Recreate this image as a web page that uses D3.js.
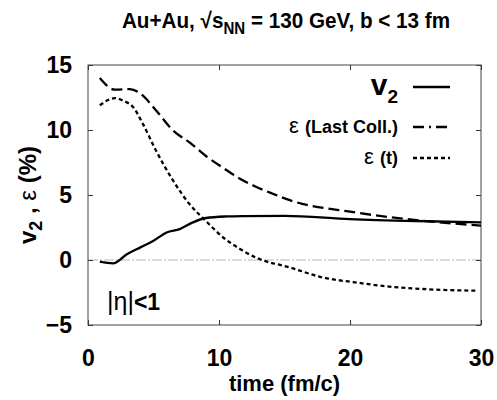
<!DOCTYPE html>
<html>
<head>
<meta charset="utf-8">
<script src="https://cdn.jsdelivr.net/npm/d3@7"></script>
<style>
  body { margin: 0; background: #fff; }
  text { font-family: "Liberation Sans", Arial, sans-serif; fill: #000; }
</style>
</head>
<body>
<svg width="497" height="400"></svg>
<script>
// data
const timeV2 = [0.9, 1.9, 3, 4, 5, 6, 7, 8, 9, 10.6, 12, 15, 20, 25, 30];
const v2 = [-0.13, -0.26, 0.46, 0.97, 1.48, 2.12, 2.38, 2.89, 3.23, 3.35, 3.38, 3.4, 3.15, 3.0, 2.9];

const timeLast = [0.9, 2.06, 3.2, 4, 5.2, 6.5, 7.75, 9, 10.3, 11.6, 12.9, 14.1, 15.4, 20.4, 25.5, 30];
const epsLast = [14.0, 13.1, 13.15, 12.8, 11.5, 9.95, 9.05, 8.0, 7.1, 6.25, 5.6, 5.1, 4.6, 3.66, 3.02, 2.65];

const timeEps = [0.9, 2.06, 2.7, 3.45, 4.2, 5.2, 6.5, 7.75, 9, 10.3, 11.6, 12.9, 15.4, 17.9, 20.4, 23, 25.5, 29.6];
const epsT = [11.9, 12.45, 12.25, 11.75, 10.45, 8.4, 6.1, 4.3, 3.0, 1.75, 0.85, 0.15, -0.57, -1.34, -1.72, -2.05, -2.23, -2.36];

const xTicks = [0, 10, 20, 30];
const yTicks = [-5, 0, 5, 10, 15];

const margin = { left: 88, right: 16, top: 65, bottom: 75 };
const svg = d3.select('svg');
const width = +svg.attr('width');
const height = +svg.attr('height');
const innerWidth = width - margin.left - margin.right;
const innerHeight = height - margin.top - margin.bottom;

const g = svg.append('g')
    .attr('transform', `translate(${margin.left},${margin.top})`);

const xScale = d3.scaleLinear().domain([0, 30]).range([0, innerWidth]);
const yScale = d3.scaleLinear().domain([-5, 15]).range([innerHeight, 0]);

// zero line
g.append('line')
    .attr('x1', 0).attr('x2', innerWidth)
    .attr('y1', yScale(0)).attr('y2', yScale(0))
    .attr('stroke', '#b8b8b8')
    .attr('stroke-width', 1.2)
    .attr('stroke-dasharray', '10,2,2,2');

// axes with inward ticks
const styleAxis = sel => {
  sel.attr('font-family', null).attr('font-size', null);
  sel.select('.domain').remove();
  sel.selectAll('.tick line').attr('stroke', '#333').attr('stroke-width', 1);
  sel.selectAll('.tick text')
    .attr('font-weight', 'bold')
    .attr('font-size', 23)
    .attr('fill', '#000');
};
// mirrored axes: ticks only
const ticksOnly = sel => {
  styleAxis(sel);
  sel.selectAll('.tick text').remove();
};

g.append('g')
    .attr('transform', `translate(0,${innerHeight})`)
    .call(d3.axisBottom(xScale).tickValues(xTicks).tickSize(-5).tickPadding(25))
    .call(styleAxis);
g.append('g')
    .call(d3.axisTop(xScale).tickValues(xTicks).tickSize(-5))
    .call(ticksOnly);
g.append('g')
    .call(d3.axisLeft(yScale).tickValues(yTicks).tickSize(-5).tickPadding(16))
    .call(styleAxis);
g.append('g')
    .attr('transform', `translate(${innerWidth},0)`)
    .call(d3.axisRight(yScale).tickValues(yTicks).tickSize(-5))
    .call(ticksOnly);

// frame
g.append('rect')
    .attr('width', innerWidth).attr('height', innerHeight)
    .attr('fill', 'none')
    .attr('stroke', '#444')
    .attr('stroke-width', 1);

const line = d3.line()
    .x(d => xScale(d[0]))
    .y(d => yScale(d[1]))
    .curve(d3.curveMonotoneX);

const series = [
  { t: timeLast, v: epsLast, dash: '11,5' },
  { t: timeEps, v: epsT, dash: '4,3' },
  { t: timeV2, v: v2, dash: null }
];

series.forEach(s => {
  g.append('path')
      .attr('d', line(d3.zip(s.t, s.v)))
      .attr('fill', 'none')
      .attr('stroke', '#000')
      .attr('stroke-width', 2.3)
      .attr('stroke-dasharray', s.dash);
});

// legend
const legend = svg.append('g');
const lx1 = 413, lx2 = 450;
legend.append('line').attr('x1', lx1).attr('x2', lx2).attr('y1', 87).attr('y2', 87)
    .attr('stroke', '#000').attr('stroke-width', 2.3);
legend.append('line').attr('x1', lx1).attr('x2', lx2).attr('y1', 127).attr('y2', 127)
    .attr('stroke', '#000').attr('stroke-width', 2.3).attr('stroke-dasharray', '11,5,2,5');
legend.append('line').attr('x1', lx1).attr('x2', lx2).attr('y1', 158).attr('y2', 158)
    .attr('stroke', '#000').attr('stroke-width', 2.3).attr('stroke-dasharray', '4,3');

const v2Text = legend.append('text')
    .attr('x', 398).attr('y', 95)
    .attr('text-anchor', 'end')
    .attr('font-weight', 'bold')
    .attr('font-size', 30);
v2Text.append('tspan').text('v');
v2Text.append('tspan').attr('font-size', 19).attr('dy', 8).text('2');

const lcText = legend.append('text')
    .attr('x', 398).attr('y', 133)
    .attr('text-anchor', 'end')
    .attr('font-size', 18);
lcText.append('tspan').attr('font-size', 22).text('ε ');
lcText.append('tspan').attr('font-weight', 'bold').text('(Last Coll.)');

const etText = legend.append('text')
    .attr('x', 398).attr('y', 164)
    .attr('text-anchor', 'end')
    .attr('font-size', 18);
etText.append('tspan').attr('font-size', 22).text('ε ');
etText.append('tspan').attr('font-weight', 'bold').text('(t)');

// |eta|<1 label
const etaText = svg.append('text')
    .attr('x', 107).attr('y', 310)
    .attr('font-size', 25);
etaText.append('tspan').text('|η|');
etaText.append('tspan').attr('font-weight', 'bold').attr('font-size', 23).text('<1');

// title
const title = svg.append('text')
    .attr('transform', 'translate(286,28) scale(0.94,1)')
    .attr('text-anchor', 'middle')
    .attr('font-weight', 'bold')
    .attr('font-size', 22);
title.append('tspan').text('Au+Au, √s');
title.append('tspan').attr('font-size', 16).attr('dy', 6).text('NN');
title.append('tspan').attr('dy', -6).text(' = 130 GeV, b < 13 fm');

// x label
svg.append('text')
    .attr('x', margin.left + innerWidth / 2).attr('y', 391)
    .attr('text-anchor', 'middle')
    .attr('font-weight', 'bold')
    .attr('font-size', 22)
    .text('time (fm/c)');

// y label
const yLab = svg.append('text')
    .attr('transform', `translate(36,${margin.top + innerHeight / 2}) rotate(-90)`)
    .attr('text-anchor', 'middle')
    .attr('font-weight', 'bold')
    .attr('font-size', 24);
yLab.append('tspan').text('v');
yLab.append('tspan').attr('font-size', 18).attr('dy', 6).text('2');
yLab.append('tspan').attr('dy', -6).text(' , ');
yLab.append('tspan').attr('font-weight', 'normal').text('ε');
yLab.append('tspan').text(' (%)');
</script>
</body>
</html>
